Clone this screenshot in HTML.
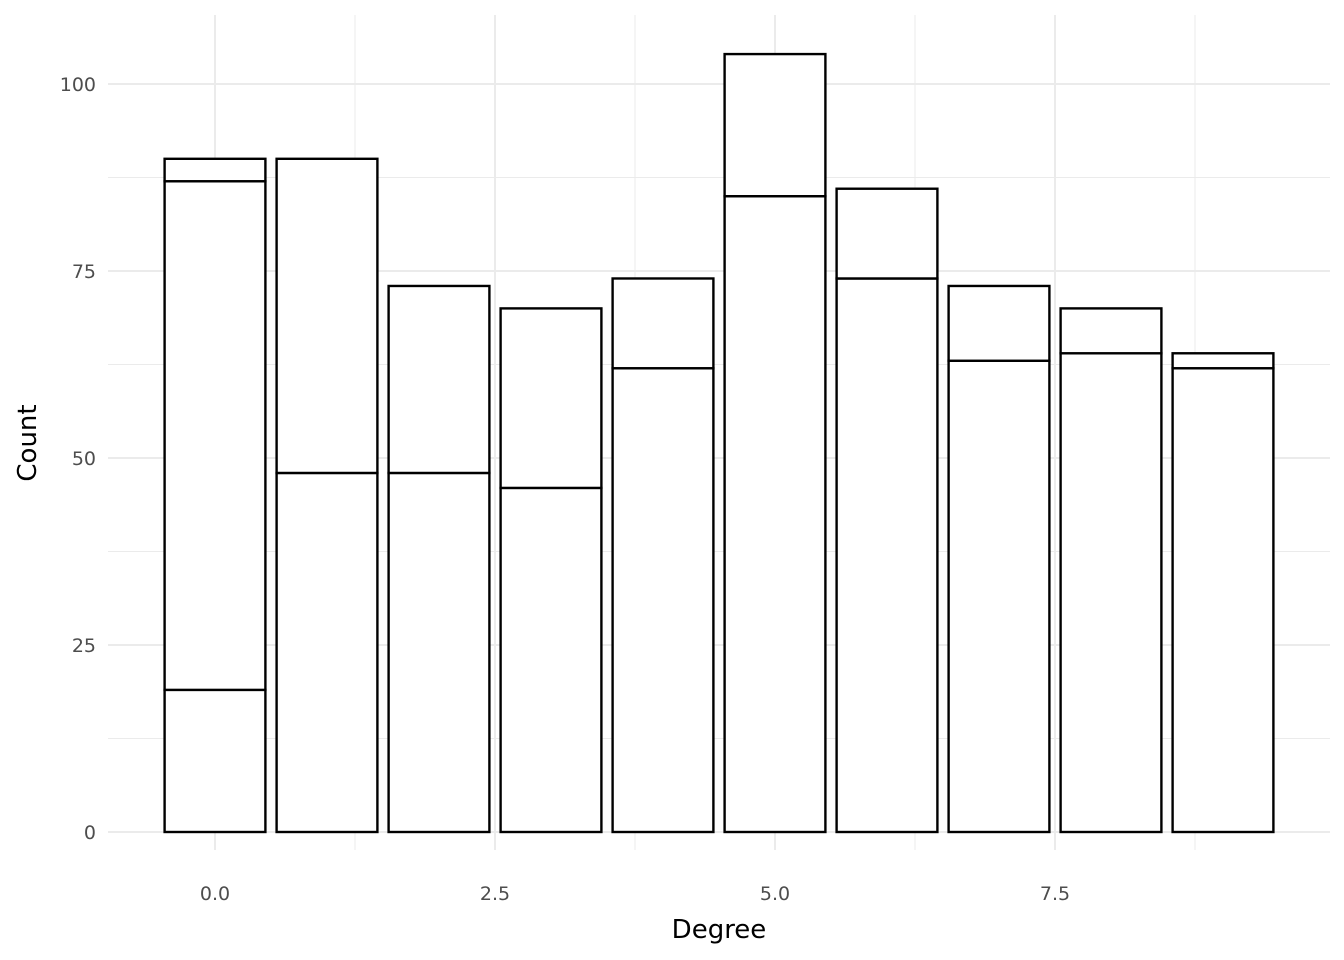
<!DOCTYPE html>
<html><head><meta charset="utf-8"><style>
body{margin:0;background:#fff}
svg{display:block}
text{font-family:"DejaVu Sans","Liberation Sans",sans-serif}
</style></head><body>
<svg id="chart" width="1344" height="960" viewBox="0 0 1344 960">
<g id="grid"></g>
<g id="bars"></g>
<g id="axes"></g>
<text x="719" y="938" font-size="26" text-anchor="middle" fill="#000">Degree</text>
<text transform="translate(36,443) rotate(-90)" font-size="26" text-anchor="middle" fill="#000">Count</text>
</svg>
<script>
const categories = [0,1,2,3,4,5,6,7,8,9];
const seriesBottom = [19,48,48,46,62,85,74,63,64,62];
const seriesMiddle = [68,42,25,24,12,19,12,10,6,2];
const seriesTop = [3,0,0,0,0,0,0,0,0,0];
const xTicks = [0,2.5,5,7.5];
const xTickLabels = ["0.0","2.5","5.0","7.5"];
const yTicks = [0,25,50,75,100];
const yTickLabels = ["0","25","50","75","100"];

const NS="http://www.w3.org/2000/svg";
const xs = v => 215 + v*112;
const ys = v => 832 - v*7.48;
const L=108,R=1330,T=15,B=850;
function mk(tag,attrs,parent){const e=document.createElementNS(NS,tag);for(const k in attrs)e.setAttribute(k,attrs[k]);parent.appendChild(e);return e;}
const grid=document.getElementById('grid'), bars=document.getElementById('bars'), axes=document.getElementById('axes');
for(let i=0;i<xTicks.length;i++){
  const m=mk('line',{x1:xs(xTicks[i]+1.25),x2:xs(xTicks[i]+1.25),y1:T,y2:B,stroke:'#ebebeb','stroke-width':1},grid);
  
  
}
for(let i=0;i<yTicks.length-1;i++){
  const m=mk('line',{x1:L,x2:R,y1:ys(yTicks[i]+12.5),y2:ys(yTicks[i]+12.5),stroke:'#ebebeb','stroke-width':1},grid);
  
  
}
xTicks.forEach((t,i)=>{
  const g=mk('line',{x1:xs(t),x2:xs(t),y1:T,y2:B,stroke:'#ebebeb','stroke-width':2},grid);
  
  
  const tx=mk('text',{x:xs(t),y:900,'font-size':19,fill:'#4d4d4d','text-anchor':'middle'},axes);
  tx.textContent=xTickLabels[i];
  
  
});
yTicks.forEach((t,i)=>{
  const g=mk('line',{x1:L,x2:R,y1:ys(t),y2:ys(t),stroke:'#ebebeb','stroke-width':2},grid);
  
  
  const tx=mk('text',{x:96,y:ys(t)+7,'font-size':19,fill:'#4d4d4d','text-anchor':'end'},axes);
  tx.textContent=yTickLabels[i];
  
  
});
const w=0.9;
categories.forEach((c,i)=>{
  let base=0;
  [seriesBottom,seriesMiddle,seriesTop].forEach((s,k)=>{
    const v=s[i]; if(v<=0) return;
    const r=mk('rect',{x:xs(c-w/2),y:ys(base+v),width:xs(c+w/2)-xs(c-w/2),height:ys(base)-ys(base+v),fill:'#fff',stroke:'#000','stroke-width':2.4},bars);
    
    
    base+=v;
  });
});
</script>
</body></html>
